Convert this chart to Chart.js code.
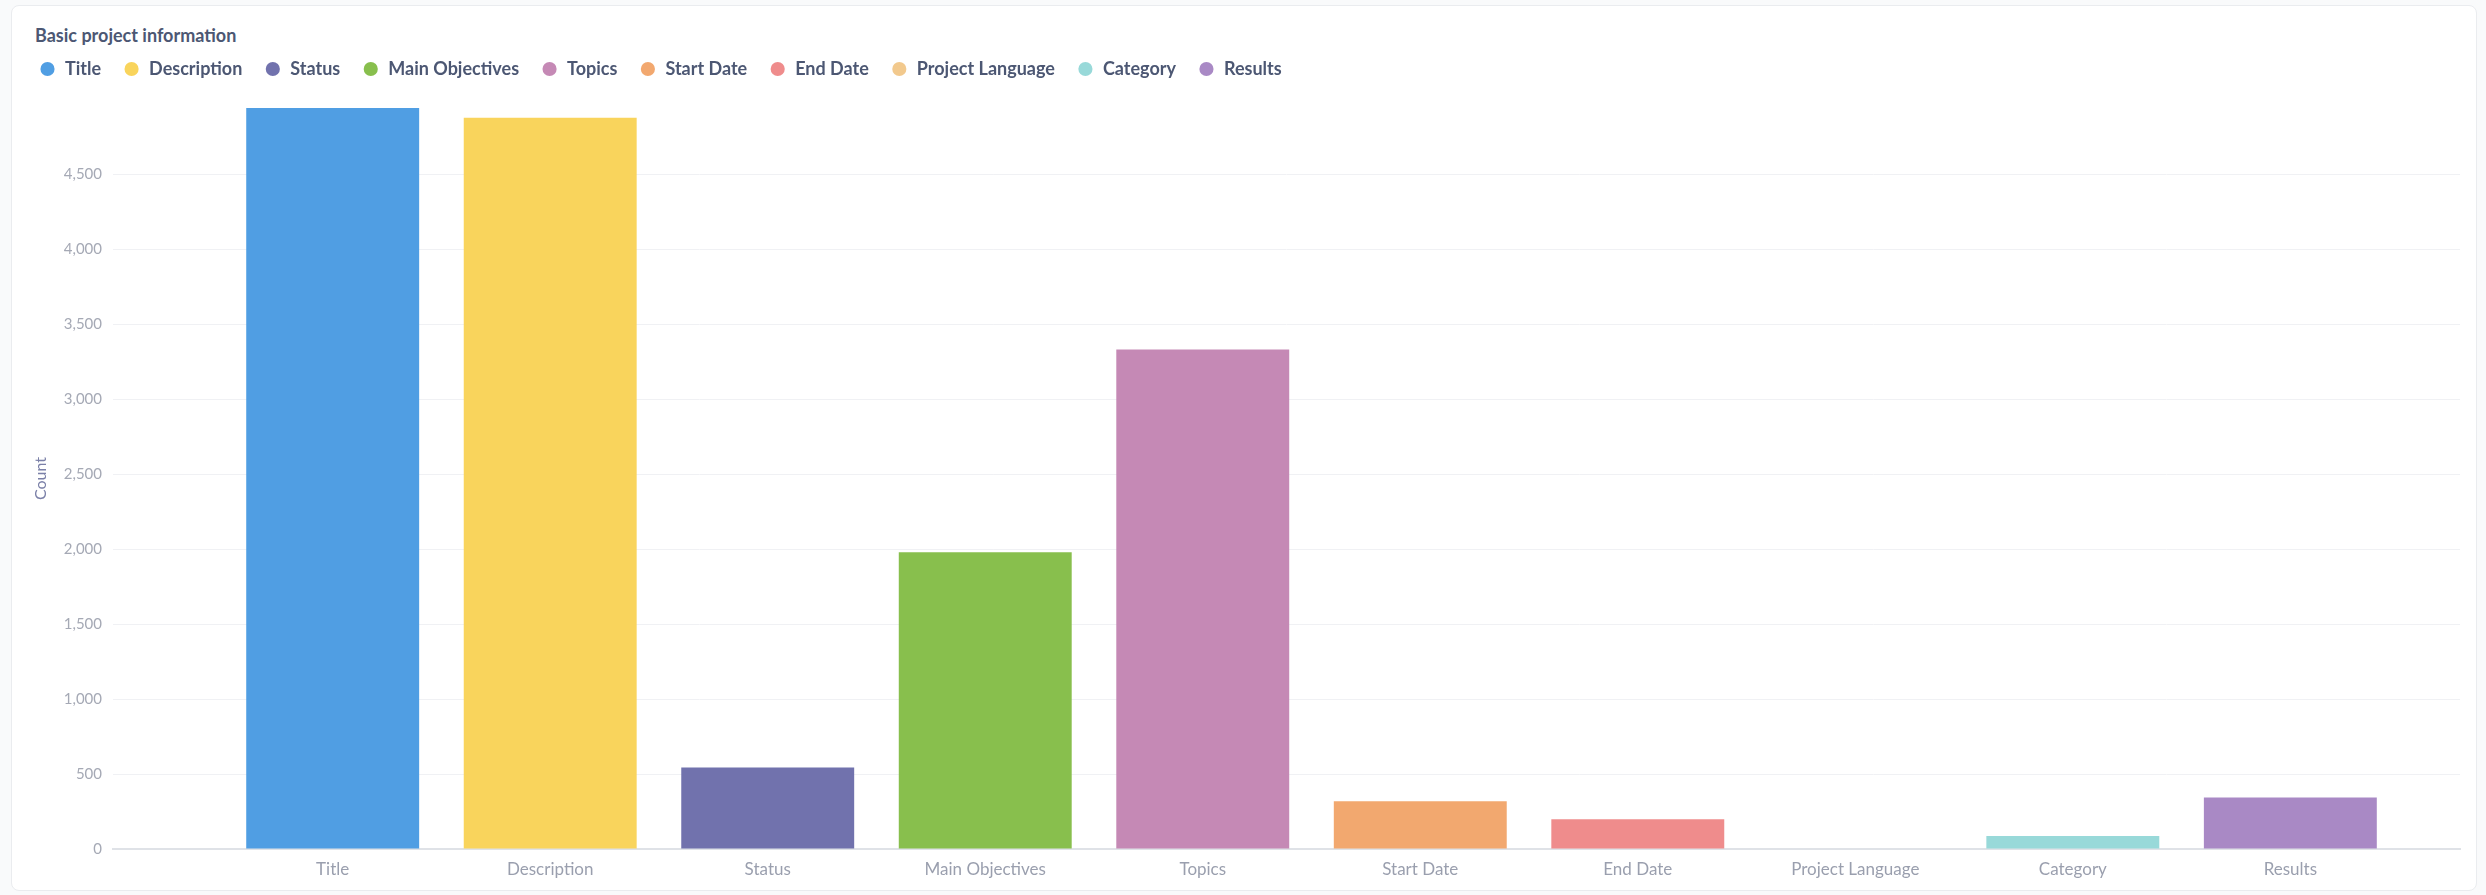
<!DOCTYPE html>
<html>
<head>
<meta charset="utf-8">
<script src="https://cdn.jsdelivr.net/npm/chart.js@4.4.1/dist/chart.umd.min.js"></script>
<style>
  html, body { margin: 0; padding: 0; background: #f9fafb; }
  body { width: 2486px; height: 895px; position: relative; overflow: hidden; font-family: Lato, "Noto Sans", sans-serif; }
  .card { position: absolute; left: 11px; top: 5px; width: 2464px; height: 884px; background: #fff; border: 1px solid #eaecef; border-radius: 8px; }
  .chart-title { position: absolute; left: 35px; top: 24px; line-height: 22px; font-size: 18px; font-weight: 700; color: #4c5773; }
  canvas { position: absolute; left: 0; top: 0; }
</style>
</head>
<body>
<div class="card"></div>
<div class="chart-title">Basic project information</div>
<canvas id="chart" width="2486" height="895"></canvas>
<script>
// Categories and counts
const categories = ["Title", "Description", "Status", "Main Objectives", "Topics", "Start Date", "End Date", "Project Language", "Category", "Results"];
const counts = [4941, 4876, 543, 1979, 3330, 318, 198, 0, 87, 343];
const barColors = ["#509EE3", "#F9D45C", "#7172AD", "#88BF4D", "#C589B5", "#F2A86F", "#EF8C8C", "#F2C98D", "#98D9D9", "#A989C5"];
const yTicks = [0, 500, 1000, 1500, 2000, 2500, 3000, 3500, 4000, 4500];

// Push the plot down a little below the legend row
const legendSpacer = {
  id: 'legendSpacer',
  beforeInit(chart) {
    const fit = chart.legend.fit;
    chart.legend.fit = function () {
      fit.bind(chart.legend)();
      this.height += 20;
    };
  }
};

const ctx = document.getElementById('chart');

new Chart(ctx, {
  type: 'bar',
  data: {
    datasets: [{
      data: categories.map((c, i) => ({ x: i, y: counts[i] })),
      backgroundColor: barColors,
      borderWidth: 0,
      barPercentage: 0.795,
      categoryPercentage: 1
    }]
  },
  options: {
    responsive: false,
    devicePixelRatio: 1,
    animation: false,
    layout: { padding: { left: 17, right: 26, top: 38, bottom: 0 } },
    scales: {
      x: {
        type: 'linear',
        offset: false,
        min: -1.01,
        max: 9.78,
        grid: { display: false, drawTicks: false },
        border: { color: '#dfe2e7', width: 2 },
        afterBuildTicks: s => { s.ticks = categories.map((c, i) => ({ value: i })); },
        afterFit: s => { s.height = 46; },
        ticks: {
          callback: v => categories[v],
          color: '#9a9fae',
          font: { family: 'Lato', size: 17 },
          padding: 10,
          maxRotation: 0,
          autoSkip: false
        }
      },
      y: {
        min: 0,
        max: Math.max(...counts),
        afterBuildTicks: s => { s.ticks = yTicks.map(v => ({ value: v })); },
        afterFit: s => { s.width = 96; },
        grid: { color: '#f0f1f4', drawTicks: false },
        border: { display: false },
        ticks: { padding: 11, color: '#a5a9b5', font: { family: 'Lato', size: 15 } },
        title: {
          display: true,
          text: 'Count',
          color: '#7b80a8',
          font: { family: 'Lato', size: 16 },
          padding: { top: 14, bottom: 4 }
        }
      }
    },
    plugins: {
      title: { display: false },
      tooltip: { enabled: false },
      legend: {
        position: 'top',
        align: 'start',
        labels: {
          usePointStyle: true,
          boxWidth: 17,
          boxHeight: 10,
          padding: 22,
          color: '#4c5773',
          font: { family: 'Lato', size: 18, weight: 'bold' },
          generateLabels: () => categories.map((c, i) => ({
            text: c,
            fillStyle: barColors[i],
            strokeStyle: barColors[i],
            fontColor: '#4c5773',
            lineWidth: 0,
            pointStyle: 'circle',
            hidden: false,
            index: i
          }))
        }
      }
    }
  },
  plugins: [legendSpacer]
});
</script>
</body>
</html>
